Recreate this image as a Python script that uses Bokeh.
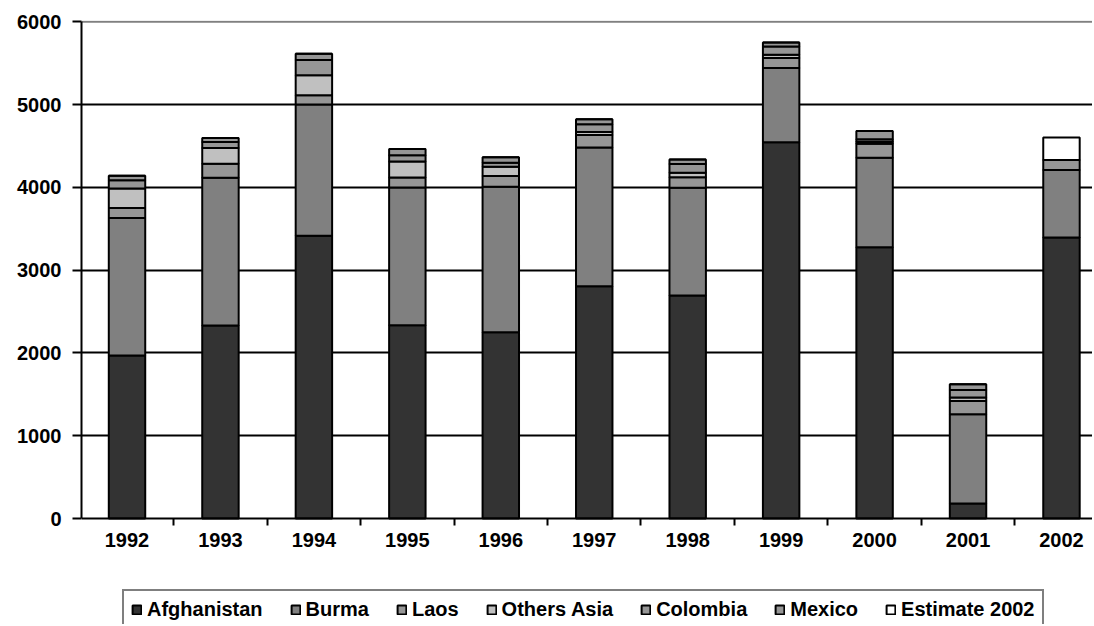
from bokeh.plotting import figure
from bokeh.models import ColumnDataSource, FixedTicker, Range1d, Legend, Span
from bokeh.embed import file_html
from bokeh.resources import INLINE

years = ['1992', '1993', '1994', '1995', '1996', '1997', '1998', '1999', '2000', '2001', '2002']
afghanistan = [1970, 2330, 3416, 2335, 2248, 2804, 2693, 4545, 3276, 180, 3395]
burma = [1660, 1785, 1583, 1664, 1760, 1676, 1303, 895, 1082, 1080, 815]
laos = [120, 170, 113, 120, 130, 152, 124, 122, 169, 160, 120]
others_asia = [237, 190, 241, 193, 110, 37, 55, 38, 24, 40, 0]
colombia = [98, 72, 185, 75, 50, 92, 105, 100, 29, 93, 0]
mexico = [55, 48, 76, 75, 64, 61, 55, 50, 101, 69, 0]
estimate_2002 = [0, 0, 0, 0, 0, 0, 0, 0, 0, 0, 270]

series_names = ['Afghanistan', 'Burma', 'Laos', 'Others Asia', 'Colombia', 'Mexico', 'Estimate 2002']
series_keys = ['afghanistan', 'burma', 'laos', 'others_asia', 'colombia', 'mexico', 'estimate_2002']
colors = ['#333333', '#808080', '#969696', '#C0C0C0', '#969696', '#969696', '#FFFFFF']
y_ticks = [0, 1000, 2000, 3000, 4000, 5000, 6000]

xs = list(range(len(years)))
source = ColumnDataSource(dict(
    x=xs,
    afghanistan=afghanistan, burma=burma, laos=laos, others_asia=others_asia,
    colombia=colombia, mexico=mexico, estimate_2002=estimate_2002,
))

FONT = "Liberation Sans"
FS = "20px"

# frame spans the full height; the value axis covers 0..6000 and the area
# below 0 holds the category labels and the legend
p = figure(width=1092, height=624, output_backend="svg", toolbar_location=None,
           x_range=Range1d(-0.487, 10.332), y_range=Range1d(-1280, 6014.5),
           min_border_left=81, min_border_right=0, min_border_top=20, min_border_bottom=0)
p.outline_line_color = None
p.background_fill_color = "white"
p.border_fill_color = "white"

renderers = p.vbar_stack(series_keys, x='x', width=0.39, source=source,
                         fill_color=colors, line_color='black', line_width=2)

# gridlines
p.xgrid.grid_line_color = None
p.ygrid.ticker = FixedTicker(ticks=[1000, 2000, 3000, 4000, 5000])
p.ygrid.grid_line_color = 'black'
p.ygrid.grid_line_width = 2
p.add_layout(Span(location=6000, dimension='width', line_color='#808080', line_width=2, level='underlay'))

# y axis
p.yaxis.ticker = FixedTicker(ticks=y_ticks)
p.yaxis.bounds = (0, 6000)
p.yaxis.axis_line_width = 2
p.yaxis.axis_line_color = 'black'
p.yaxis.major_tick_line_width = 2
p.yaxis.major_tick_line_color = 'black'
p.yaxis.major_tick_out = 9
p.yaxis.major_tick_in = 0
p.yaxis.minor_tick_line_color = None
p.yaxis.major_label_text_font = FONT
p.yaxis.major_label_text_font_style = "bold"
p.yaxis.major_label_text_font_size = FS
p.yaxis.major_label_text_color = 'black'
p.yaxis.major_label_standoff = 11

# x axis, drawn at value 0
p.xaxis.fixed_location = 0
p.xaxis.ticker = FixedTicker(ticks=xs, minor_ticks=[i + 0.5 for i in xs[:-1]])
p.xaxis.major_label_overrides = {i: y for i, y in zip(xs, years)}
p.xaxis.axis_line_width = 2
p.xaxis.axis_line_color = 'black'
p.xaxis.major_tick_line_color = None
p.xaxis.major_tick_out = 7
p.xaxis.major_tick_in = 0
p.xaxis.minor_tick_line_color = 'black'
p.xaxis.minor_tick_line_width = 2
p.xaxis.minor_tick_out = 7
p.xaxis.minor_tick_in = 0
p.xaxis.major_label_text_font = FONT
p.xaxis.major_label_text_font_style = "bold"
p.xaxis.major_label_text_font_size = FS
p.xaxis.major_label_text_color = 'black'
p.xaxis.major_label_standoff = 7

legend = Legend(items=[(n, [r]) for n, r in zip(series_names, renderers)],
                orientation='horizontal', location=(41, -6),
                label_text_font=FONT, label_text_font_style='bold', label_text_font_size=FS,
                label_text_color='black',
                glyph_width=11, glyph_height=11, label_standoff=5, spacing=27,
                padding=7, margin=0,
                border_line_color='black', border_line_width=2,
                background_fill_color='white', background_fill_alpha=1)
p.add_layout(legend, 'center')

open("out.html", "w").write(file_html(p, INLINE))
